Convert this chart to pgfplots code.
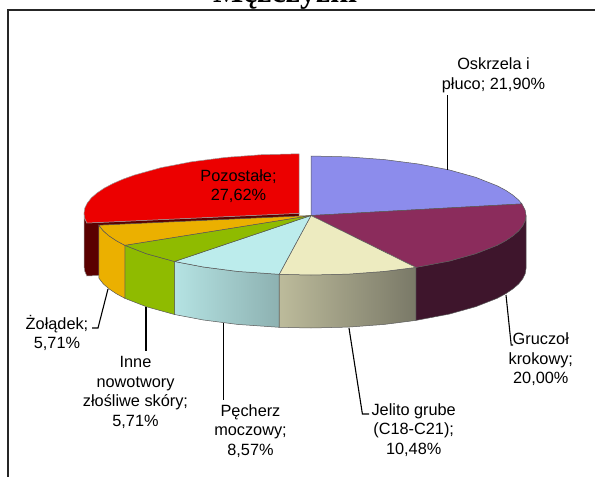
\documentclass[border=0pt]{standalone}
\usepackage{pgfplots}
\pgfplotsset{compat=1.18}
\usepackage{fontspec}
\setmainfont{Liberation Sans}
\newfontfamily\titlefont{Liberation Serif}
\definecolor{cblue}{HTML}{8C8CEC}
\definecolor{cmaroon}{HTML}{8B2C5C}
\definecolor{cmaroonside}{HTML}{3E152C}
\definecolor{ccream}{HTML}{EDEBC0}
\definecolor{ccyan}{HTML}{BCECEC}
\definecolor{cgreen}{HTML}{8FBB00}
\definecolor{corange}{HTML}{EBB000}
\definecolor{cred}{HTML}{EC0000}
\definecolor{cdarkred}{HTML}{5A0000}
\tikzset{
pie/.style={draw=black!65,line width=0.5pt},
lab/.style={font=\fontsize{16.3}{19.6}\selectfont,align=center,text=black,inner sep=0pt},
lead/.style={draw=black,line width=1.1pt}}
\begin{document}
\begin{tikzpicture}
\path[use as bounding box] (0,0) rectangle (595pt,477pt);
\begin{axis}[at={(0,0)},anchor=south west,
scale only axis,
width=595pt,
height=477pt,
xmin=0,xmax=595,
ymin=0,ymax=477,
y dir=reverse,
hide axis,
clip=false]
% frame
\addplot[draw=black!85,line width=1.5pt] coordinates {(8,477) (8,10) (595,10)};
% exploded slice: sides
\addplot[pie,draw=black!40,fill=cdarkred] coordinates {(299,213.3) (86.9,223) (84.8,218.5) (84,213.3) (84,266.3) (84.8,271.5) (86.9,276) (299,266.3)} --cycle;
\addplot[pie,draw=black!40,fill=cred] coordinates {(299,213.3) (299,153.8) (261.7,154.7) (225.5,157.4) (191.5,161.8) (160.8,167.7) (134.3,175.1) (122.9,179.2) (112.8,183.6) (104.1,188.2) (97,193) (91.3,197.9) (87.3,203) (84.8,208.1) (84,213.3) (84.8,218.5) (86.9,223)} --cycle;
% side walls
\addplot[pie,fill=cmaroonside] coordinates {(526,215.5) (525.2,220.7) (522.7,225.8) (518.7,230.9) (513,235.8) (505.9,240.6) (497.2,245.3) (475.7,253.7) (449.2,261.1) (415.9,267.4) (415.9,320.4) (449.2,314.1) (475.7,306.7) (497.2,298.3) (505.9,293.6) (513,288.8) (518.7,283.9) (522.7,278.8) (525.2,273.7) (526,268.5)} --cycle;
\addplot[pie,shade,left color=ccream!78!black!95,right color=ccream!45!black!90] coordinates {(415.9,267.4) (384.5,271.4) (348.3,274.1) (311,275) (279.2,274.3) (279.2,327.3) (311,328) (348.3,327.1) (384.5,324.4) (415.9,320.4)} --cycle;
\addplot[pie,shade,left color=ccyan!96!black,right color=ccyan!75!black] coordinates {(279.2,274.3) (237.5,271.4) (203.5,267) (174.5,261.5) (174.5,314.5) (203.5,320) (237.5,324.4) (279.2,327.3)} --cycle;
\addplot[pie,fill=cgreen] coordinates {(174.5,261.5) (146.3,253.7) (124.8,245.3) (124.8,298.3) (146.3,306.7) (174.5,314.5)} --cycle;
\addplot[pie,fill=corange] coordinates {(124.8,245.3) (116.1,240.6) (109,235.8) (103.3,230.9) (98.9,225.2) (98.9,278.2) (103.3,283.9) (109,288.8) (116.1,293.6) (124.8,298.3)} --cycle;
% top faces
\addplot[pie,fill=cblue] coordinates {(311,215.5) (311,156) (348.3,156.9) (384.5,159.6) (418.5,164) (449.2,169.9) (475.7,177.3) (497.2,185.8) (505.9,190.4) (513,195.2) (518.7,200.1) (521.9,203.9)} --cycle;
\addplot[pie,fill=cmaroon] coordinates {(311,215.5) (521.9,203.9) (525.2,210.3) (526,215.5) (525.2,220.7) (522.7,225.8) (518.7,230.9) (513,235.8) (505.9,240.6) (497.2,245.3) (475.7,253.7) (449.2,261.1) (415.9,267.4)} --cycle;
\addplot[pie,fill=ccream] coordinates {(311,215.5) (415.9,267.4) (384.5,271.4) (348.3,274.1) (311,275) (279.2,274.3)} --cycle;
\addplot[pie,fill=ccyan] coordinates {(311,215.5) (279.2,274.3) (237.5,271.4) (203.5,267) (174.5,261.5)} --cycle;
\addplot[pie,fill=cgreen] coordinates {(311,215.5) (174.5,261.5) (146.3,253.7) (124.8,245.3)} --cycle;
\addplot[pie,fill=corange] coordinates {(311,215.5) (124.8,245.3) (116.1,240.6) (109,235.8) (103.3,230.9) (98.9,225.2)} --cycle;
% leader lines
\addplot[lead] coordinates {(447.3,170) (447.3,95)};
\addplot[lead] coordinates {(506,295) (511.2,345) (513,345)};
\addplot[lead] coordinates {(349,328) (362.4,414) (369,414)};
\addplot[lead] coordinates {(223.5,323) (223.5,400)};
\addplot[lead] coordinates {(146,307) (146,351)};
\addplot[lead] coordinates {(108,289) (98,328) (92,328)};
% labels
\node[anchor=base,inner sep=0pt,font=\titlefont\bfseries\fontsize{32}{36}\selectfont] at (axis cs:285,2) {Mężczyźni};
\node[lab] at (axis cs:493.5,75) {Oskrzela i\\płuco; 21,90\%};
\node[lab] at (axis cs:238.5,186) {Pozostałe;\\27,62\%};
\node[lab] at (axis cs:540.8,359.5) {Gruczoł\\krokowy;\\20,00\%};
\node[lab] at (axis cs:413.7,430) {Jelito grube\\(C18-C21);\\10,48\%};
\node[lab] at (axis cs:250.5,431) {Pęcherz\\moczowy;\\8,57\%};
\node[lab] at (axis cs:135.5,392.5) {Inne\\nowotwory\\złośliwe skóry;\\5,71\%};
\node[lab] at (axis cs:57,333) {Żołądek;\\5,71\%};
\end{axis}
\end{tikzpicture}
\end{document}
